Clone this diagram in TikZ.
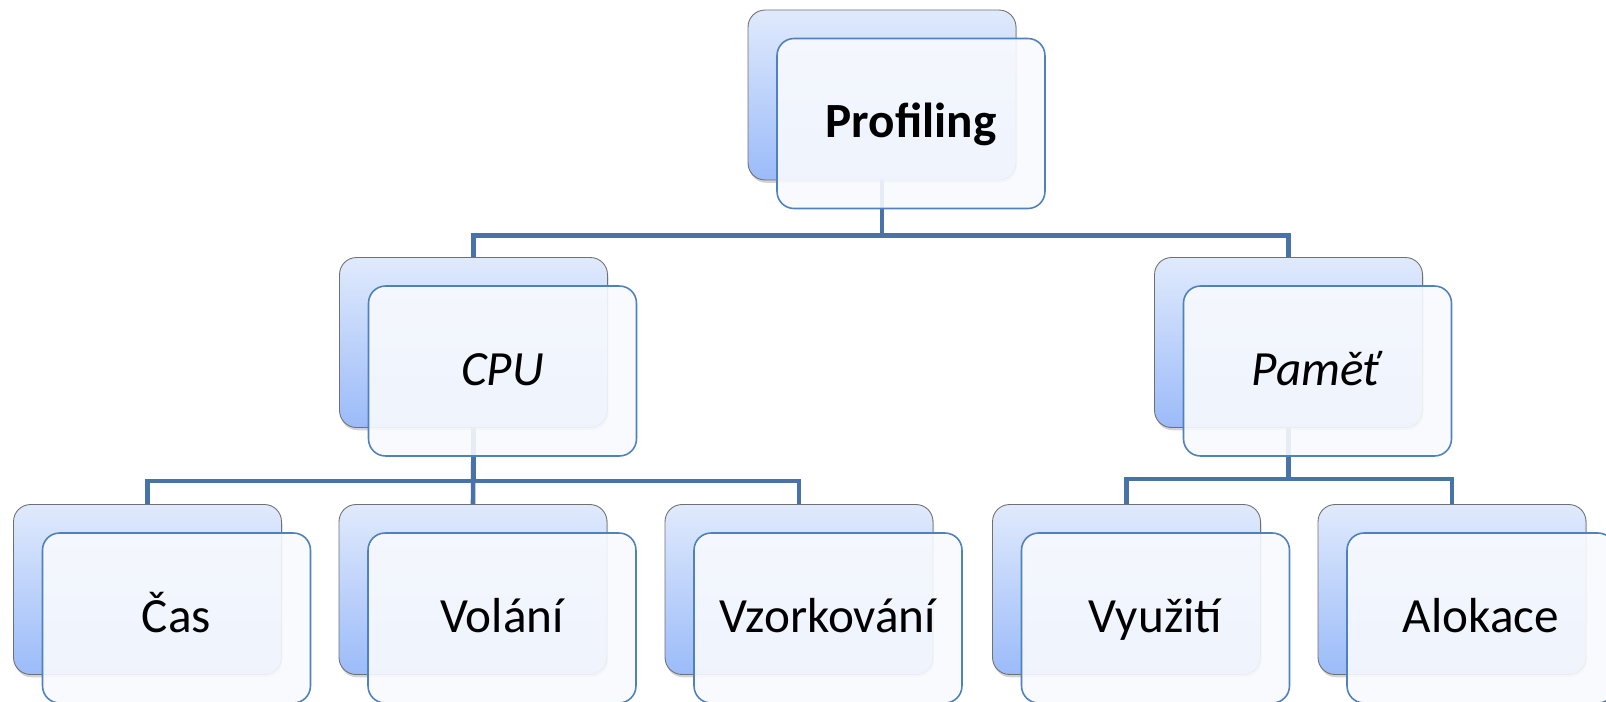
\documentclass[tikz,border=0pt]{standalone}
\usepackage{fontspec}
\setmainfont{Carlito}
\usepackage{tikz}
\usetikzlibrary{positioning,backgrounds,shadows}
\definecolor{backtop}{RGB}{224,234,252}
\definecolor{backbottom}{RGB}{155,187,249}
\definecolor{backedge}{RGB}{112,112,112}
\definecolor{frontfill}{RGB}{248,250,254}
\definecolor{frontedge}{RGB}{79,129,189}
\definecolor{linkblue}{RGB}{72,115,168}

\begin{document}
\begin{tikzpicture}[
    x=0.02cm, y=-0.02cm,
    back/.style={rectangle, draw=backedge, line width=0.5pt, rounded corners=0.34cm, minimum width=5.36cm, minimum height=3.4cm, top color=backtop, bottom color=backbottom, drop shadow={shadow xshift=0.6pt, shadow yshift=-1.6pt, opacity=0.35}},
    front/.style={rectangle, draw=frontedge, line width=0.9pt, rounded corners=0.34cm, minimum width=5.36cm, minimum height=3.4cm, fill=frontfill, fill opacity=0.9, text opacity=1, font=\fontsize{28}{32}\selectfont, text height=0.7cm, text depth=0.14cm, xshift=0.58cm, yshift=-0.57cm},
    link/.style={draw=linkblue, line width=2.6pt}
]
    \useasboundingbox (0,0) rectangle (1606,701);

    % Nodes
    \node[back] (prof) at (882,95) {};
    \node[back] (cpu) at (473.5,342.5) {};
    \node[back] (mem) at (1288.5,342.5) {};
    \node[back] (cas) at (147.5,589.5) {};
    \node[back] (vol) at (473,589.5) {};
    \node[back] (vzo) at (799,589.5) {};
    \node[back] (vyu) at (1126.5,589.5) {};
    \node[back] (alo) at (1452,589.5) {};

    \node[front] (profT) at (prof) {\textbf{Profiling}};
    \node[front] (cpuT) at (cpu) {\textit{CPU}};
    \node[front] (memT) at (mem) {\textit{Paměť}};
    \node[front] (casT) at (cas) {Čas};
    \node[front] (volT) at (vol) {Volání};
    \node[front] (vzoT) at (vzo) {Vzorkování};
    \node[front] (vyuT) at (vyu) {Využití};
    \node[front] (aloT) at (alo) {Alokace};

    % Connectors
    \begin{scope}[on background layer]
        \draw[link] (prof.south) -- ++(0,55) -| (cpu.north);
        \draw[link] (prof.south) -- ++(0,55) -| (mem.north);
        \draw[link] (cpu.south) -- ++(0,53) -| (cas.north);
        \draw[link] (cpu.south) -- ++(0,53) -| (vzo.north);
        \draw[link] (cpu.south) -- (vol.north);
        \draw[link] (mem.south) -- ++(0,51) -| (vyu.north);
        \draw[link] (mem.south) -- ++(0,51) -| (alo.north);
    \end{scope}

\end{tikzpicture}
\end{document}
